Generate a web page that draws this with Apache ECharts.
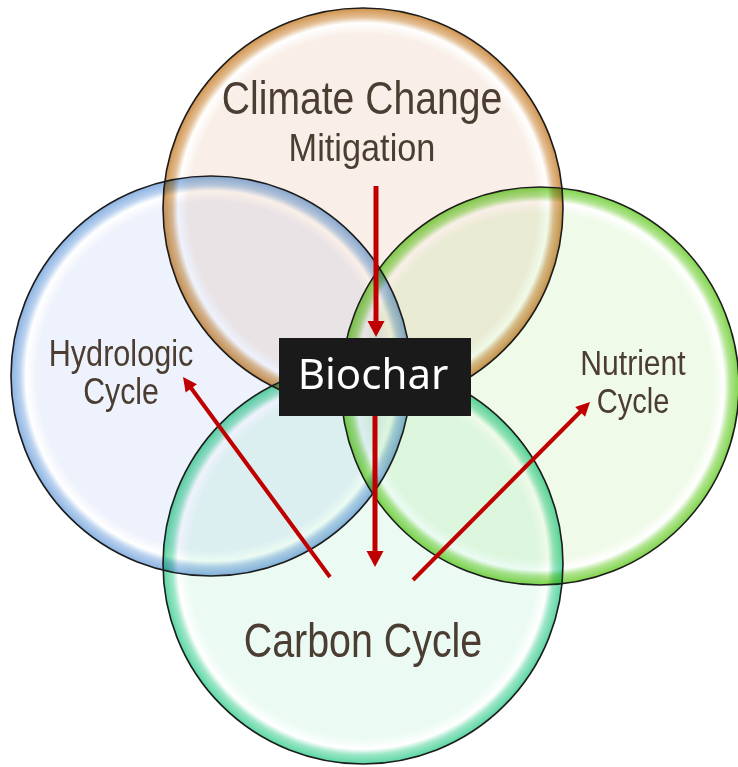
<!DOCTYPE html>
<html>
<head>
<meta charset="utf-8">
<script src="https://cdn.jsdelivr.net/npm/echarts@6/dist/echarts.min.js"></script>
<style>
html,body{margin:0;padding:0;background:#fff;}
#main{width:738px;height:767px;}
</style>
</head>
<body>
<div id="main"></div>
<script>
// four overlapping circles: centre x, centre y, radius (pixel-like units)
var circleNames = ['Climate Change Mitigation', 'Hydrologic Cycle', 'Nutrient Cycle', 'Carbon Cycle'];
var circleX = [363, 211, 540, 363];
var circleY = [208, 376, 386, 564];
var circleR = [200, 200, 199, 200];

// labels inside the circles
var labelText = ['Climate Change', 'Mitigation', 'Hydrologic', 'Cycle', 'Nutrient', 'Cycle', 'Carbon Cycle'];
var labelX = [362, 362, 121, 121, 633, 633, 363];
var labelY = [101, 150, 356, 394, 365, 403, 644];

// arrows from / to the biochar node: start x, start y, end x, end y
var arrowFromX = [376, 375, 330, 413];
var arrowFromY = [186, 416, 577, 580];
var arrowToX = [376, 375, 183, 590];
var arrowToY = [337, 567, 377, 402];

var centerLabel = 'Biochar';
var centerX = 375, centerY = 377;

// styling
var inner = ['#f9efe8', '#eef2fc', '#effae8', '#ebfbf3'];
var rim = ['#d0934d', '#8ab2e2', '#7fd44a', '#5ad6a2'];
var labelFont = [46, 39, 36, 36, 35, 35, 48];
var labelScale = [0.85, 0.88, 0.85, 0.84, 0.86, 0.83, 0.82];

var chart = echarts.init(document.getElementById('main'));

var circleData = circleX.map(function (x, i) { return [x, circleY[i], circleR[i]]; });
var labelData = labelText.map(function (t, i) { return [labelX[i], labelY[i], t]; });
var arrowData = arrowFromX.map(function (x, i) { return [x, arrowFromY[i], arrowToX[i], arrowToY[i]]; });

function renderCircle(params, api) {
	var i = params.dataIndex;
	var c = api.coord([api.value(0), api.value(1)]);
	var r = api.size([api.value(2), api.value(2)])[0];
	return {
		type: 'circle',
		name: 'fill',
		shape: { cx: c[0], cy: c[1], r: r },
		style: {
			fill: new echarts.graphic.RadialGradient(0.5, 0.5, 0.5, [
				{ offset: 0, color: inner[i] },
				{ offset: 0.87, color: inner[i] },
				{ offset: 0.925, color: '#ffffff' },
				{ offset: 0.955, color: echarts.color.lerp(0.6, ['#ffffff', rim[i]]) },
				{ offset: 1, color: rim[i] }
			]),
			blend: 'multiply'
		}
	};
}

// outlines drawn afterwards so every edge stays dark
function renderOutline(params, api) {
	var c = api.coord([api.value(0), api.value(1)]);
	var r = api.size([api.value(2), api.value(2)])[0];
	return {
		type: 'circle',
		shape: { cx: c[0], cy: c[1], r: r },
		style: { fill: 'none', stroke: '#1c1c1c', lineWidth: 1.6 }
	};
}

function renderLabel(params, api) {
	var i = params.dataIndex;
	var p = api.coord([api.value(0), api.value(1)]);
	return {
		type: 'text',
		x: p[0],
		y: p[1],
		scaleX: labelScale[i],
		style: {
			text: labelText[i],
			x: 0, y: 0,
			align: 'center',
			verticalAlign: 'middle',
			font: labelFont[i] + 'px "Liberation Sans", Arial, sans-serif',
			fill: '#4b3d31'
		}
	};
}

function renderArrow(params, api) {
	var i = params.dataIndex;
	var a = api.coord([api.value(0), api.value(1)]);
	var b = api.coord([api.value(2), api.value(3)]);
	var vertical = i < 2;
	var w = vertical ? 5 : 4, hw = vertical ? 8.5 : 7, hl = vertical ? 16 : 14;
	var dx = b[0] - a[0], dy = b[1] - a[1];
	var len = Math.sqrt(dx * dx + dy * dy);
	var ux = dx / len, uy = dy / len;
	var bx = b[0] - ux * hl, by = b[1] - uy * hl;
	return {
		type: 'group',
		children: [{
			type: 'line',
			shape: { x1: a[0], y1: a[1], x2: bx + ux, y2: by + uy },
			style: { stroke: '#c00000', lineWidth: w }
		}, {
			type: 'polygon',
			shape: { points: [[b[0], b[1]], [bx - uy * hw, by + ux * hw], [bx + uy * hw, by - ux * hw]] },
			style: { fill: '#c00000' }
		}]
	};
}

function renderCenter(params, api) {
	var p = api.coord([api.value(0), api.value(1)]);
	return {
		type: 'group',
		children: [{
			type: 'rect',
			shape: { x: p[0] - 96, y: p[1] - 39, width: 192, height: 78 },
			style: { fill: '#1a1a1a' }
		}, {
			type: 'text',
			x: p[0] - 2, y: p[1],
			style: {
				text: centerLabel,
				align: 'center',
				verticalAlign: 'middle',
				font: '42px "Noto Sans", "Open Sans", sans-serif',
				fill: '#ffffff'
			}
		}]
	};
}

chart.setOption({
	backgroundColor: '#ffffff',
	animation: false,
	grid: { left: 0, right: 0, top: 0, bottom: 0 },
	xAxis: { type: 'value', min: 0, max: 738, show: false },
	yAxis: { type: 'value', min: 0, max: 767, inverse: true, show: false },
	series: [
		{ type: 'custom', name: 'circles', renderItem: renderCircle, data: circleData, silent: true },
		{ type: 'custom', name: 'outlines', renderItem: renderOutline, data: circleData, silent: true },
		{ type: 'custom', name: 'arrows', renderItem: renderArrow, data: arrowData, silent: true },
		{ type: 'custom', name: 'center', renderItem: renderCenter, data: [[centerX, centerY]], silent: true },
		{ type: 'custom', name: 'labels', renderItem: renderLabel, data: labelData, silent: true }
	]
});

// overlaps tint like stacked glass: multiply the circle fills
var zr = chart.getZr();
zr.storage.getDisplayList(true).forEach(function (el) {
	if (el.name === 'fill') {
		el.style.blend = 'multiply';
		el.markRedraw();
	}
});
zr.refreshImmediately();
</script>
</body>
</html>
